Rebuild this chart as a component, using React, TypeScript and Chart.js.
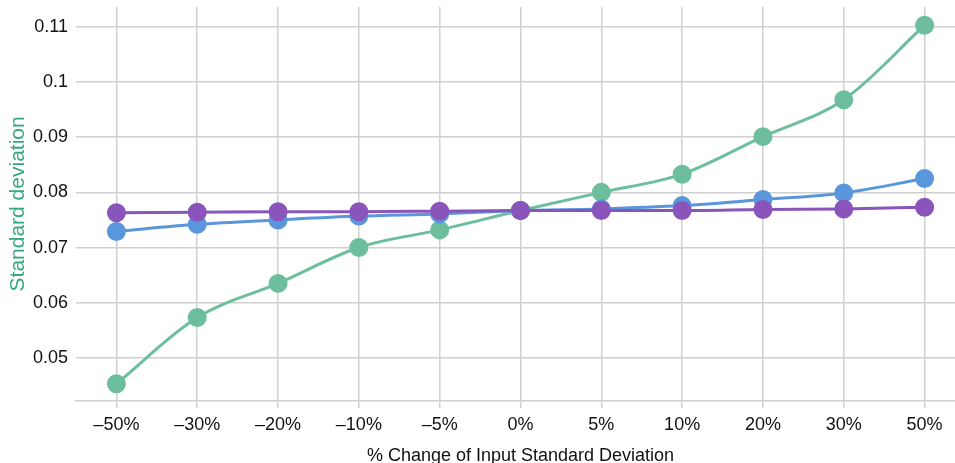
import React, { useEffect, useRef } from "react";
import { Chart, registerables } from "chart.js";

Chart.register(...registerables);

const categories = ["–50%", "–30%", "–20%", "–10%", "–5%", "0%", "5%", "10%", "20%", "30%", "50%"];
const greenValues = [0.0453, 0.0573, 0.0635, 0.0700, 0.0732, 0.0767, 0.0800, 0.0833, 0.0901, 0.0968, 0.1103];
const blueValues = [0.0729, 0.0742, 0.0750, 0.0757, 0.0761, 0.0767, 0.0770, 0.0776, 0.0787, 0.0799, 0.0825];
const purpleValues = [0.0763, 0.0764, 0.0765, 0.0765, 0.0766, 0.0767, 0.0767, 0.0767, 0.0769, 0.0770, 0.0773];
const yTickValues = [0.05, 0.06, 0.07, 0.08, 0.09, 0.1, 0.11];
const yMin = 0.04218;
const yMax = 0.11364;

const FONT = "'Liberation Sans', Arial, Helvetica, sans-serif";

export default function App() {
  const ref = useRef<HTMLCanvasElement | null>(null);
  useEffect(() => {
    if (!ref.current) return;
    const mk = (label: string, data: number[], color: string) => ({
      label,
      data,
      borderColor: color,
      backgroundColor: color,
      pointBackgroundColor: color,
      pointBorderColor: color,
      pointRadius: 8,
      pointHoverRadius: 8,
      borderWidth: 3,
      tension: 0.4,
      cubicInterpolationMode: "monotone" as const,
      clip: false as any,
    });
    const chart = new Chart(ref.current, {
      type: "line",
      data: {
        labels: categories,
        datasets: [
          mk("Purple", purpleValues, "#8a55bb"),
          mk("Blue", blueValues, "#5a96dc"),
          mk("Green", greenValues, "#6dbe9c"),
        ],
      },
      options: {
        animation: false,
        responsive: false,
        maintainAspectRatio: false,
        layout: { padding: { top: 7, right: 0, left: 0, bottom: 0 } },
        plugins: { legend: { display: false }, tooltip: { enabled: false } },
        scales: {
          x: {
            offset: true,
            grid: { color: "#d0d0d0", lineWidth: 1.5, tickLength: 7, offset: false, tickColor: "#d0d0d0" },
            border: { display: true, color: "#d0d0d0", width: 1.5 },
            ticks: { color: "#111", font: { family: FONT, size: 18 }, padding: 6, maxRotation: 0, autoSkip: false },
            title: { display: true, text: "% Change of Input Standard Deviation", color: "#111", font: { family: FONT, size: 18 }, padding: { top: 8, bottom: 0 } },
            afterFit: (s: any) => { s.height = 66; },
          },
          y: {
            min: yMin,
            max: yMax,
            afterBuildTicks: (s: any) => { s.ticks = yTickValues.map((v) => ({ value: v })); },
            grid: { color: "#d0d0d0", lineWidth: 1.5, drawTicks: false },
            border: { display: false },
            ticks: { color: "#111", font: { family: FONT, size: 18 }, padding: 8, callback: (v: any) => String(Number(v)) },
            title: { display: true, text: "Standard deviation", color: "#33a882", font: { family: FONT, size: 21 }, padding: { top: 6, bottom: 0 } },
            afterFit: (s: any) => { s.width = 76; },
          },
        },
      },
    });
    return () => chart.destroy();
  }, []);
  return (
    <div style={{ position: "fixed", left: 0, top: 0, width: 955, height: 463, overflow: "hidden", background: "#fff" }}>
      <canvas ref={ref} width={976} height={479} style={{ display: "block", marginTop: -12 }} />
    </div>
  );
}
